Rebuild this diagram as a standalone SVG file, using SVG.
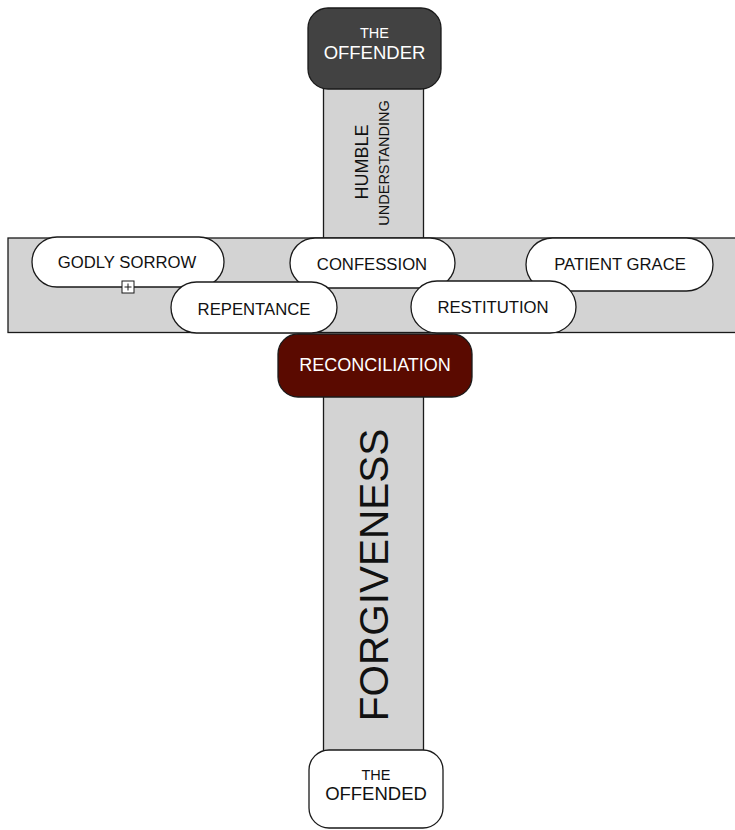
<svg xmlns="http://www.w3.org/2000/svg" width="735" height="830" viewBox="0 0 735 830">
<style>
.bar{fill:#d3d3d3;stroke:#1a1a1a;stroke-width:1.3}
.pill{fill:#fff;stroke:#1a1a1a;stroke-width:1.3}
.t{font-family:"Liberation Sans",Arial,sans-serif;text-anchor:middle;fill:#111}
.w{fill:#fff}
</style>
<rect width="735" height="830" fill="#fff"/>
<g id="connectors">
<rect id="bar-top" class="bar" x="323.5" y="80" width="100" height="160"/>
<rect id="bar-bottom" class="bar" x="323.5" y="390" width="100" height="365"/>
<rect id="bar-cross" class="bar" x="8" y="238" width="740" height="94.5"/>
</g>
<g id="humble">
<text class="t" font-size="18" transform="translate(368,162) rotate(-90)">HUMBLE</text>
<text class="t" font-size="14.5" transform="translate(388.5,163) rotate(-90)">UNDERSTANDING</text>
</g>
<g id="forgiveness">
<text class="t" font-size="40.5" transform="translate(387.5,575) rotate(-90)">FORGIVENESS</text>
</g>
<g id="offender">
<rect x="308" y="8" width="133" height="81" rx="20" fill="#424242" stroke="#1a1a1a" stroke-width="1.3"/>
<text class="t w" font-size="14.5" x="374.5" y="38">THE</text>
<text class="t w" font-size="18.5" x="374.5" y="59">OFFENDER</text>
</g>
<g id="godly-sorrow">
<rect class="pill" x="32" y="237" width="192" height="50" rx="25"/>
<text class="t" font-size="16.7" x="127" y="268">GODLY SORROW</text>
<rect x="122" y="281" width="12" height="12" fill="#fff" stroke="#1a1a1a" stroke-width="1"/>
<path d="M128 283.5v7M124.5 287h7" stroke="#1a1a1a" stroke-width="1"/>
</g>
<g id="confession">
<rect class="pill" x="290" y="238" width="165" height="50" rx="25"/>
<text class="t" font-size="16.7" x="372" y="270">CONFESSION</text>
</g>
<g id="patient-grace">
<rect class="pill" x="526" y="238" width="187" height="53" rx="26.5"/>
<text class="t" font-size="16.7" x="620" y="270">PATIENT GRACE</text>
</g>
<g id="repentance">
<rect class="pill" x="171" y="282" width="166" height="51" rx="25.5"/>
<text class="t" font-size="16.7" x="254" y="315">REPENTANCE</text>
</g>
<g id="restitution">
<rect class="pill" x="411" y="281" width="165" height="52" rx="26"/>
<text class="t" font-size="16.7" x="493" y="313">RESTITUTION</text>
</g>
<g id="reconciliation">
<rect x="278" y="334" width="194" height="63" rx="20" fill="#5a0a00" stroke="#1a1a1a" stroke-width="1.3"/>
<text class="t w" font-size="18" x="375" y="371">RECONCILIATION</text>
</g>
<g id="offended">
<rect x="309" y="750" width="134" height="78" rx="20" fill="#fff" stroke="#1a1a1a" stroke-width="1.3"/>
<text class="t" font-size="14.5" x="376" y="780">THE</text>
<text class="t" font-size="18.5" x="376" y="800">OFFENDED</text>
</g>
</svg>
